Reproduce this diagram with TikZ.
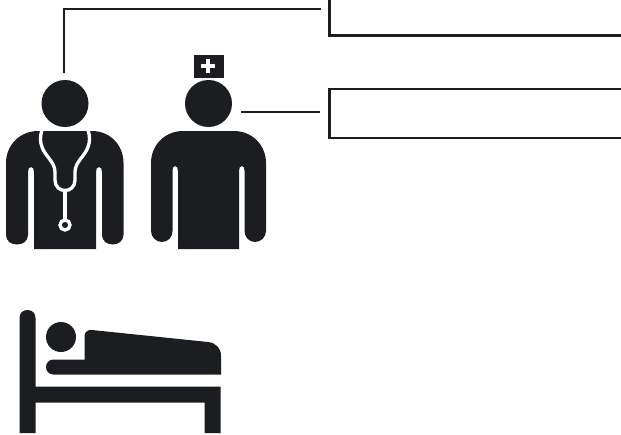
\documentclass[tikz,border=0pt]{standalone}
\usepackage{xcolor}
\usetikzlibrary{positioning}
\definecolor{figdark}{HTML}{1C1D21}
\tikzset{figline/.style = {draw = figdark, line width = 1.6pt}}
\tikzset{figfill/.style = {fill = figdark}}
\tikzset{gapline/.style = {draw = white, line width = 2.5pt}}
\begin{document}
\begin{tikzpicture}[x = 0.75pt, y = -0.75pt]
    \useasboundingbox (0, 0) rectangle (621, 435);
    % label boxes, cut off by the page
    \coordinate (boxatl) at (329.5, 0);
    \coordinate (boxabl) at (329.5, 35.5);
    \coordinate (boxabr) at (621, 35.5);
    \coordinate (boxbtr) at (621, 89);
    \coordinate (boxbtl) at (329.5, 89);
    \coordinate (boxbbl) at (329.5, 138);
    \coordinate (boxbbr) at (621, 138);
    \draw [figline] (boxatl) -- (boxabl) -- (boxabr);
    \draw [figline] (boxbtr) -- (boxbtl) -- (boxbbl) -- (boxbbr);
    % leader lines
    \coordinate (doctortop) at (64, 73);
    \coordinate (doctorbend) at (64, 9);
    \coordinate (doctorend) at (321, 9);
    \coordinate (nursestart) at (241, 112);
    \coordinate (nurseend) at (320, 112);
    \draw [figline] (doctortop) -- (doctorbend) -- (doctorend);
    \draw [figline] (nursestart) -- (nurseend);
    % doctor
    \fill [figfill] (65, 103.5) circle (23.5);
    \fill [figfill] (34, 249) -- (34, 172)
        .. controls (34, 169) and (33, 167) .. (31, 167)
        .. controls (29, 167) and (28, 169) .. (28, 172)
        -- (28, 235)
        .. controls (28, 241) and (23, 244.5) .. (17, 244.5)
        .. controls (11, 244.5) and (6, 241) .. (6, 235)
        -- (6, 163)
        .. controls (6, 145) and (20, 131) .. (38, 131)
        -- (92, 131)
        .. controls (110, 131) and (123.5, 145) .. (123.5, 163)
        -- (123.5, 235)
        .. controls (123.5, 241) and (118, 244.5) .. (113, 244.5)
        .. controls (107, 244.5) and (102, 241) .. (102, 235)
        -- (102, 172)
        .. controls (102, 169) and (101, 167) .. (99, 167)
        .. controls (97, 167) and (96, 169) .. (96, 172)
        -- (96, 249) -- cycle;
    % stethoscope
    \draw [gapline] (42, 130) .. controls (40, 136) and (40, 142) .. (42, 147)
        .. controls (45, 156) and (55, 162) .. (55, 172)
        -- (55, 180)
        .. controls (55, 187) and (60, 190.5) .. (65, 190.5)
        .. controls (70, 190.5) and (75, 187) .. (75, 180)
        -- (75, 172)
        .. controls (75, 162) and (85, 156) .. (88, 147)
        .. controls (90, 142) and (90, 136) .. (88, 130);
    \draw [gapline] (65, 190) -- (65, 219);
    \draw [gapline] (65, 225) circle (5);
    % nurse
    \fill [figfill] (208.5, 103.5) circle (23.5);
    \fill [figfill] (193.5, 55) rectangle (223.5, 78);
    \draw [white, line width = 2.6pt] (201, 66) -- (215, 66) (208, 59) -- (208, 73);
    \fill [figfill] (178, 249) -- (178, 171)
        .. controls (178, 168) and (177, 166) .. (175, 166)
        .. controls (173, 166) and (172.5, 168) .. (172.5, 171)
        -- (172.5, 231)
        .. controls (172.5, 237) and (168, 242) .. (162, 242)
        .. controls (156, 242) and (151, 237) .. (151, 231)
        -- (151, 163)
        .. controls (151, 145) and (165, 131) .. (183, 131)
        -- (234, 131)
        .. controls (252, 131) and (266, 145) .. (266, 163)
        -- (266, 231)
        .. controls (266, 237) and (261, 242) .. (255, 242)
        .. controls (249, 242) and (244.5, 237) .. (244.5, 231)
        -- (244.5, 171)
        .. controls (244.5, 168) and (244, 166) .. (242, 166)
        .. controls (240, 166) and (239, 168) .. (239, 171)
        -- (239, 249) -- cycle;
    % bed
    \fill [figfill] (19.5, 433) -- (19.5, 318)
        .. controls (19.5, 313) and (23, 310) .. (27.5, 310)
        .. controls (32, 310) and (35.5, 313) .. (35.5, 318)
        -- (35.5, 386.5) -- (220.5, 386.5) -- (220.5, 433) -- (204.5, 433)
        -- (204.5, 402.5) -- (35.5, 402.5) -- (35.5, 433) -- cycle;
    \fill [figfill] (61, 337) circle (15);
    \fill [figfill] (221, 374.5) -- (53.5, 374.5)
        .. controls (49, 374.5) and (46, 371) .. (46, 367)
        .. controls (46, 363) and (49, 359.5) .. (53.5, 359.5)
        -- (84.5, 359.5) -- (84.5, 336)
        .. controls (84.5, 332) and (88, 329.5) .. (92, 330)
        -- (208, 342)
        .. controls (216, 343) and (221, 348) .. (221, 356)
        -- cycle;
\end{tikzpicture}
\end{document}
